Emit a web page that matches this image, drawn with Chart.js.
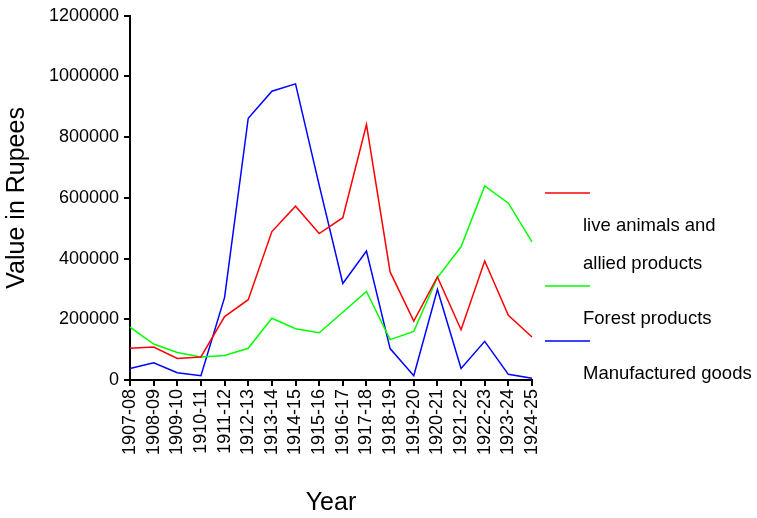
<!DOCTYPE html>
<html>
  <head>
    <title>Value in Rupees by Year</title>
    <style>
      body { margin: 0; background: #fff; }
      #wrap { width: 757px; height: 518px; }
    </style>
    <script src="https://cdn.jsdelivr.net/npm/chart.js"></script>
  </head>
  <body>
    <div id="wrap"><canvas id="myChart"></canvas></div>
    <script>
      const years = ['1907-08', '1908-09', '1909-10', '1910-11', '1911-12', '1912-13', '1913-14', '1914-15', '1915-16',
        '1916-17', '1917-18', '1918-19', '1919-20', '1920-21', '1921-22', '1922-23', '1923-24', '1924-25'];

      const liveAnimals = [104500, 108800, 70800, 76100, 209100, 264600, 489000, 572800, 482500,
        534800, 841800, 356100, 193800, 339800, 165500, 392000, 213400, 141500];
      const forestProducts = [174200, 118600, 90400, 76100, 80600, 104500, 203600, 168800, 155800,
        223200, 291800, 132900, 160100, 337600, 438900, 639300, 582600, 455200];
      const manufacturedGoods = [38000, 56500, 24000, 14000, 272000, 862500, 951700, 975800, 642000,
        318000, 424700, 103500, 14000, 298400, 38000, 127400, 18600, 5500];

      const legendLabels = [['live animals and', 'allied products'], ['Forest products'], ['Manufactured goods']];

      Chart.defaults.font.family = '"Liberation Sans", Arial, sans-serif';
      Chart.defaults.color = '#000';

      // legend in the right margin: a short line, then the text below it
      const sideLegend = {
        id: 'sideLegend',
        afterDraw(chart) {
          const ctx = chart.ctx;
          let y = 193;
          ctx.save();
          ctx.font = '18.5px "Liberation Sans", Arial, sans-serif';
          ctx.textBaseline = 'middle';
          ctx.fillStyle = '#000';
          chart.data.datasets.forEach((ds, i) => {
            ctx.strokeStyle = ds.borderColor;
            ctx.lineWidth = 1.5;
            ctx.beginPath();
            ctx.moveTo(545, y);
            ctx.lineTo(590, y);
            ctx.stroke();
            y += 33;
            legendLabels[i].forEach((t, j) => {
              if (j > 0) y += 38;
              ctx.fillText(t, 583, y);
            });
            y += 22;
          });
          ctx.restore();
        }
      };

      const ctx = document.getElementById('myChart').getContext('2d');
      new Chart(ctx, {
        type: 'line',
        data: {
          labels: years,
          datasets: [
            { label: 'live animals and allied products', data: liveAnimals, borderColor: '#ff0000' },
            { label: 'Forest products', data: forestProducts, borderColor: '#00ff00' },
            { label: 'Manufactured goods', data: manufacturedGoods, borderColor: '#0000ff' }
          ]
        },
        options: {
          responsive: true,
          maintainAspectRatio: false,
          animation: false,
          elements: {
            line: { borderWidth: 1.5, tension: 0, fill: false },
            point: { radius: 0 }
          },
          layout: { padding: { top: 13, right: 225, bottom: 0, left: 0 } },
          plugins: {
            legend: { display: false },
            tooltip: { enabled: false }
          },
          scales: {
            x: {
              offset: false,
              grid: { display: true, drawOnChartArea: false, drawTicks: true, tickLength: 6, color: '#000', lineWidth: 2 },
              border: { display: true, color: '#000', width: 2 },
              ticks: { font: { size: 18 }, maxRotation: 90, minRotation: 90, padding: 3, autoSkip: false },
              title: { display: true, text: 'Year', font: { size: 25 }, padding: { top: 0, bottom: 0 } },
              afterFit: (scale) => { scale.height = 138; }
            },
            y: {
              min: 0,
              max: 1200000,
              grid: { display: true, drawOnChartArea: false, drawTicks: true, tickLength: 6, color: '#000', lineWidth: 2 },
              border: { display: true, color: '#000', width: 2 },
              ticks: { font: { size: 18 }, stepSize: 200000, padding: 5, callback: (v) => String(v) },
              title: { display: true, text: 'Value in Rupees', font: { size: 25 }, padding: { top: 2, bottom: 0 } },
              afterFit: (scale) => { scale.width = 130; }
            }
          }
        },
        plugins: [sideLegend]
      });
    </script>
  </body>
</html>
